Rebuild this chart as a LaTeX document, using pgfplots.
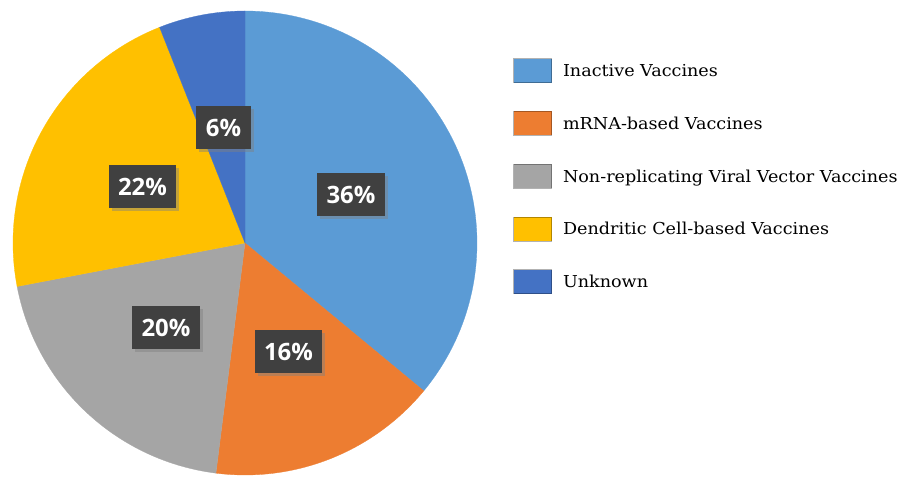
\documentclass[border=0pt]{standalone}
\usepackage{fontspec}
\usepackage{pgfplots}
\pgfplotsset{compat=1.18}
\usetikzlibrary{shadows}
\newfontfamily\legfont[FakeStretch=1.07]{DejaVu Serif}
\newfontfamily\labfont{Open Sans}
\definecolor{cInact}{HTML}{5B9BD5}
\definecolor{cMRNA}{HTML}{ED7D31}
\definecolor{cGrey}{HTML}{A5A5A5}
\definecolor{cYell}{HTML}{FFC000}
\definecolor{cUnk}{HTML}{4472C4}
\definecolor{cBox}{HTML}{404040}
\begin{document}
\begin{tikzpicture}
\begin{axis}[
  width=900bp, height=477bp, scale only axis,
  xmin=0, xmax=900, ymin=0, ymax=477,
  hide axis, clip=false,
  legend style={at={(axis cs:513,419)}, anchor=north west, draw=none, fill=none,
    inner sep=0pt, row sep=28bp, column sep=11bp,
    nodes={inner sep=0pt, text height=15bp, text depth=3bp},
    font=\legfont\fontsize{16.5}{19}\selectfont},
  legend cell align=left,
  legend image code/.code={\draw[#1, draw=black, draw opacity=0.3, line width=0.8bp] (0bp,-12bp) rectangle (38bp,12bp);},
]
% slices: Inactive 36%, mRNA 16%, Non-replicating 20%, Dendritic 22%, Unknown 6% (clockwise from top)
\addplot[fill=cInact, draw=cInact, line width=0.3bp, domain=-39.6:90, samples=90, variable=\t]
  ({245+232*cos(\t)},{234+232*sin(\t)}) -- (axis cs:245,234) -- cycle;
\addlegendentry{Inactive Vaccines}
\addplot[fill=cMRNA, draw=cMRNA, line width=0.3bp, domain=-97.2:-39.6, samples=50, variable=\t]
  ({245+232*cos(\t)},{234+232*sin(\t)}) -- (axis cs:245,234) -- cycle;
\addlegendentry{mRNA-based Vaccines}
\addplot[fill=cGrey, draw=cGrey, line width=0.3bp, domain=-169.2:-97.2, samples=60, variable=\t]
  ({245+232*cos(\t)},{234+232*sin(\t)}) -- (axis cs:245,234) -- cycle;
\addlegendentry{Non-replicating Viral Vector Vaccines}
\addplot[fill=cYell, draw=cYell, line width=0.3bp, domain=-248.4:-169.2, samples=60, variable=\t]
  ({245+232*cos(\t)},{234+232*sin(\t)}) -- (axis cs:245,234) -- cycle;
\addlegendentry{Dendritic Cell-based Vaccines}
\addplot[fill=cUnk, draw=cUnk, line width=0.3bp, domain=-270:-248.4, samples=20, variable=\t]
  ({245+232*cos(\t)},{234+232*sin(\t)}) -- (axis cs:245,234) -- cycle;
\addlegendentry{Unknown}
% data labels
\addplot[draw=none, mark=none, forget plot,
  point meta=explicit symbolic,
  nodes near coords={\pgfplotspointmeta\%},
  nodes near coords align={center},
  every node near coord/.style={anchor=center, fill=cBox, text=white,
    font=\labfont\bfseries\fontsize{24}{28}\selectfont,
    inner xsep=9.5bp, inner ysep=0pt, minimum height=43bp,
    drop shadow={opacity=0.45, shadow xshift=3bp, shadow yshift=-3bp}},
] table[meta=lab] {
x y lab
351 282.5 36
288.5 125.5 16
166 149.5 20
142.5 290 22
223.5 349.5 6
};
\coordinate (ll) at (axis cs:0,0);
\coordinate (ur) at (axis cs:900,477);
\end{axis}
\pgfresetboundingbox
\path[use as bounding box] (ll) rectangle (ur);
\end{tikzpicture}
\end{document}
